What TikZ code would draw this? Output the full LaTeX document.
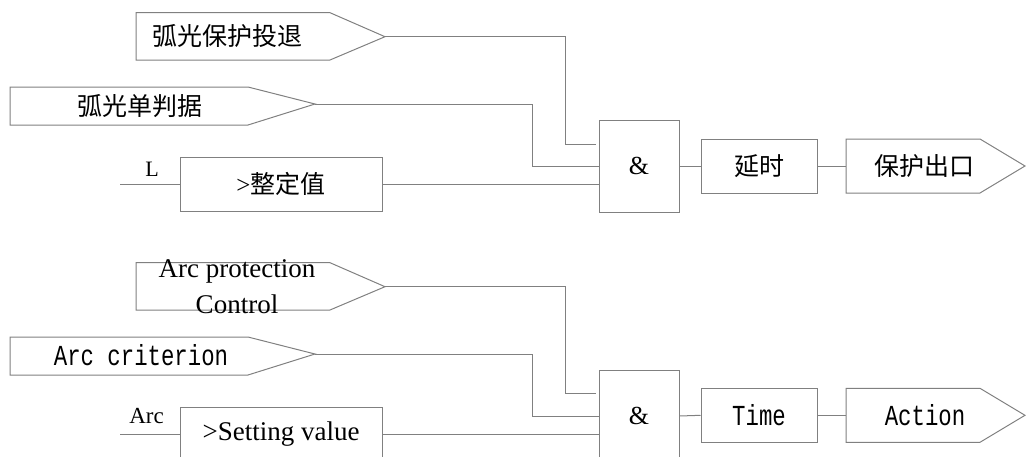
\documentclass[tikz,border=0pt]{standalone}
\usepackage{fontspec}
\setmainfont{Liberation Serif}
\newfontfamily\cjk{Noto Sans CJK SC}
\newfontfamily\mono[FakeStretch=0.77]{Liberation Mono}
\definecolor{lg}{RGB}{128,128,128}
\begin{document}
\begin{tikzpicture}[x=1pt,y=-1pt,
  wire/.style={draw=lg, line width=1pt},
  box/.style={draw=lg, line width=1pt, inner sep=0pt},
  zh/.style={font=\cjk\fontsize{25}{30}\selectfont, inner sep=0pt},
  lat/.style={font=\fontsize{27}{36}\selectfont, inner sep=0pt},
  tt/.style={font=\mono\fontsize{29}{33}\selectfont, inner sep=0pt}]
\useasboundingbox (0,0) rectangle (1026,456);
% ---------------- top diagram ----------------
\draw[box] (136,12.7) -- (330,12.7) -- (385,36.7) coordinate (ta) -- (330,60) -- (136,60) -- cycle;
\node[zh] (tat) at (227,36) {弧光保护投退};
\draw[box] (10,87) -- (248,87) -- (315,104) coordinate (tb) -- (248,125) -- (10,125) -- cycle;
\node[zh] (tbt) at (140,106) {弧光单判据};
\node[box, minimum width=202, minimum height=54, font=\cjk\fontsize{25}{30}\selectfont] (tc) at (281,184) {{\rmfamily >}整定值};
\node[lat, font=\fontsize{22}{26}\selectfont, anchor=base] (tl) at (152,176) {L};
\coordinate (tcin) at (120,184);
\node[box, minimum width=80, minimum height=92, font=\fontsize{26}{30}\selectfont] (tand) at (639,166) {\&};
\node[box, minimum width=116, minimum height=54, font=\cjk\fontsize{25}{30}\selectfont] (tdl) at (759,166) {延时};
\draw[box] (846,139) -- (980,139) -- (1025,166) -- (980,193) -- (846,193) -- cycle;
\coordinate (toutw) at (846,166);
\node[zh] (toutt) at (924,166) {保护出口};
\coordinate (tak) at (565.7,144);
\coordinate (tastub) at (596,144);
\coordinate (tbk) at (532.7,166);
\draw[wire] (ta) -| (tak) -- (tastub);
\draw[wire] (tb) -| (tbk) -- (tand.west);
\draw[wire] (tcin) -- (tc.west);
\draw[wire] (tc.east) -- (tc.east -| tand.west);
\draw[wire] (tand.east) -- (tdl.west);
\draw[wire] (tdl.east) -- (toutw);
% ---------------- bottom diagram ----------------
\draw[box] (136,262.7) -- (330,262.7) -- (385,286.7) coordinate (ba) -- (330,310) -- (136,310) -- cycle;
\node[lat, align=center, font=\fontsize{27}{36}\selectfont] (bat) at (237,287) {Arc protection\\Control};
\draw[box] (10,337) -- (248,337) -- (315,354) coordinate (bb) -- (248,375) -- (10,375) -- cycle;
\node[tt] (bbt) at (141,355) {Arc criterion};
\node[box, minimum width=202, minimum height=54, font=\fontsize{27}{36}\selectfont] (bc) at (281,434) {>Setting value};
\node[lat, font=\fontsize{23}{28}\selectfont, anchor=base] (bl) at (146.5,423) {Arc};
\coordinate (bcin) at (120,434);
\node[box, minimum width=80, minimum height=92, font=\fontsize{26}{30}\selectfont] (band) at (639,416) {\&};
\node[box, minimum width=116, minimum height=54, tt] (bdl) at (759,415.3) {Time};
\draw[box] (846,388.3) -- (980,388.3) -- (1025,415.3) -- (980,442.3) -- (846,442.3) -- cycle;
\coordinate (boutw) at (846,415.3);
\node[tt] (boutt) at (925,415) {Action};
\coordinate (bak) at (565.7,393.5);
\coordinate (bastub) at (596,393.5);
\coordinate (bbk) at (532.7,416);
\draw[wire] (ba) -| (bak) -- (bastub);
\draw[wire] (bb) -| (bbk) -- (band.west);
\draw[wire] (bcin) -- (bc.west);
\draw[wire] (bc.east) -- (bc.east -| band.west);
\draw[wire] (band.east) -- (bdl.west);
\draw[wire] (bdl.east) -- (boutw);
\end{tikzpicture}
\end{document}
